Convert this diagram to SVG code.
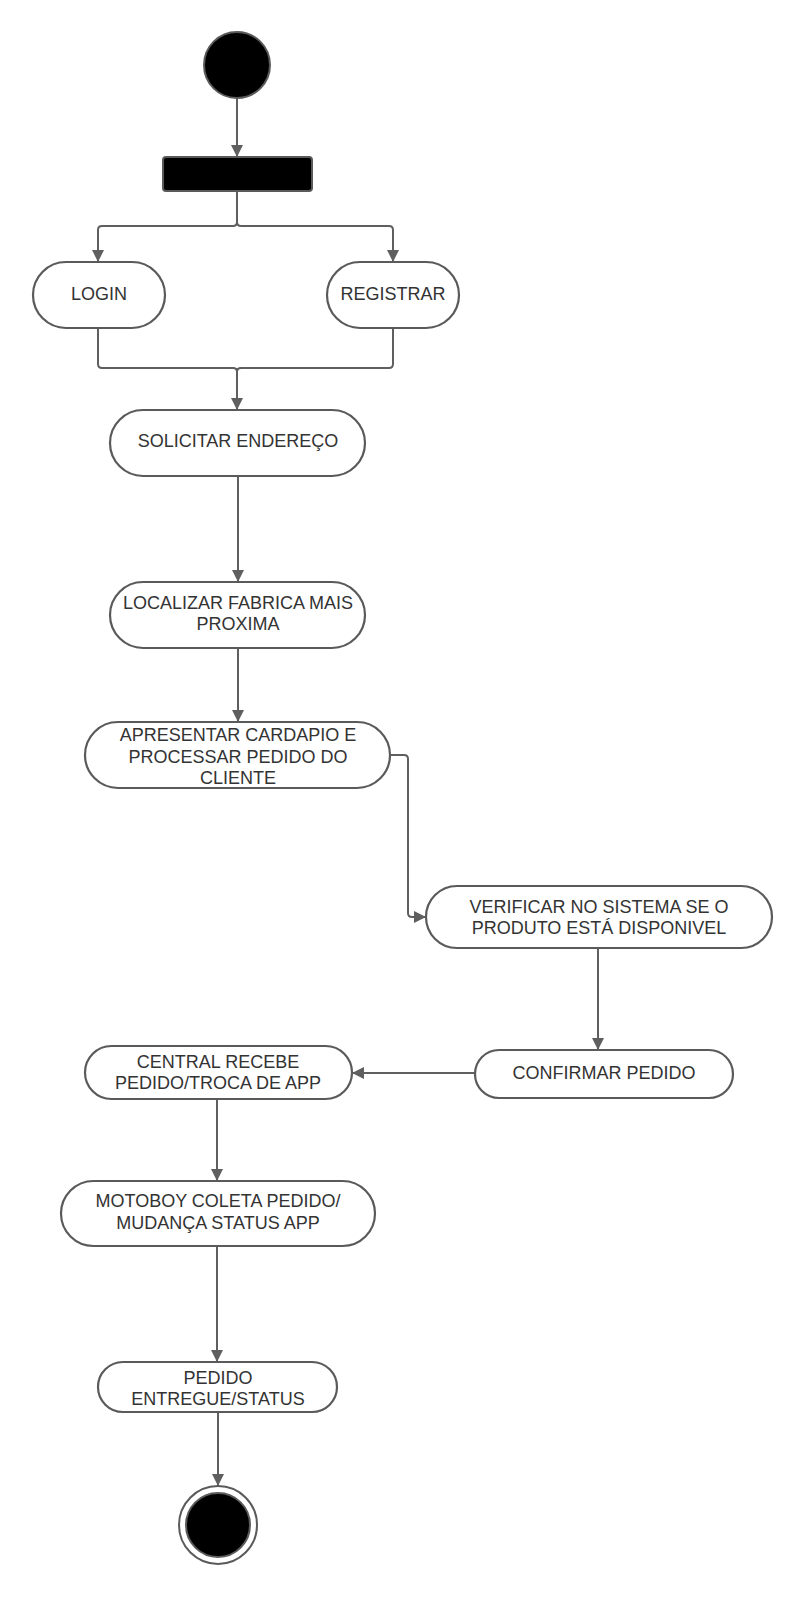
<svg xmlns="http://www.w3.org/2000/svg" width="805" height="1600" viewBox="0 0 805 1600">
<style>
.n{fill:#fff;stroke:#5a5a5a;stroke-width:2.2}
.t{font-family:"Liberation Sans",Arial,sans-serif;font-size:18px;fill:#333;text-anchor:middle;dominant-baseline:central}
.c{fill:none;stroke:#5f5f5f;stroke-width:2}
</style>
<defs>
<marker id="a" markerUnits="userSpaceOnUse" markerWidth="12" markerHeight="14" refX="12" refY="6" orient="auto">
<path d="M0,0 L12,6 L0,12 Z" fill="#5f5f5f"/>
</marker>
</defs>
<rect width="805" height="1600" fill="#fff"/>
<g id="connectors">
<path class="c" d="M237,98 V157" marker-end="url(#a)"/>
<path class="c" d="M237,191 V222 Q237,226 233,226 H102 Q98,226 98,230 V262" marker-end="url(#a)"/>
<path class="c" d="M237,191 V222 Q237,226 241,226 H389 Q393,226 393,230 V262" marker-end="url(#a)"/>
<path class="c" d="M98,328 V364 Q98,368 102,368 H233 Q237,368 237,372"/>
<path class="c" d="M393,328 V364 Q393,368 389,368 H241 Q237,368 237,372"/>
<path class="c" d="M237,368 V410" marker-end="url(#a)"/>
<path class="c" d="M238,476 V582" marker-end="url(#a)"/>
<path class="c" d="M238,648 V722" marker-end="url(#a)"/>
<path class="c" d="M390,755 H404 Q408,755 408,759 V913 Q408,917 412,917 H426" marker-end="url(#a)"/>
<path class="c" d="M598,948 V1050" marker-end="url(#a)"/>
<path class="c" d="M475,1073 H352" marker-end="url(#a)"/>
<path class="c" d="M217,1099 V1181" marker-end="url(#a)"/>
<path class="c" d="M217,1246 V1362" marker-end="url(#a)"/>
<path class="c" d="M218,1412 V1486" marker-end="url(#a)"/>
</g>
<g id="start"><circle cx="237" cy="65" r="33" fill="#000" stroke="#5a5a5a" stroke-width="2"/></g>
<g id="fork"><rect x="163" y="157" width="149" height="34" rx="3" fill="#000" stroke="#5a5a5a" stroke-width="2"/></g>
<g id="login"><rect class="n" x="33" y="262" width="132" height="66" rx="33"/><text class="t" x="99" y="294">LOGIN</text></g>
<g id="registrar"><rect class="n" x="327" y="262" width="132" height="66" rx="33"/><text class="t" x="393" y="294">REGISTRAR</text></g>
<g id="solicitar"><rect class="n" x="110" y="410" width="255" height="66" rx="33"/><text class="t" x="238" y="441">SOLICITAR ENDEREÇO</text></g>
<g id="localizar"><rect class="n" x="110" y="582" width="255" height="66" rx="33"/><text class="t" x="238" y="603">LOCALIZAR FABRICA MAIS</text><text class="t" x="238" y="624">PROXIMA</text></g>
<g id="apresentar"><rect class="n" x="85" y="722" width="305" height="66" rx="33"/><text class="t" x="238" y="735">APRESENTAR CARDAPIO E</text><text class="t" x="238" y="757">PROCESSAR PEDIDO DO</text><text class="t" x="238" y="778">CLIENTE</text></g>
<g id="verificar"><rect class="n" x="426" y="886" width="346" height="62" rx="31"/><text class="t" x="599" y="907">VERIFICAR NO SISTEMA SE O</text><text class="t" x="599" y="928">PRODUTO ESTÁ DISPONIVEL</text></g>
<g id="confirmar"><rect class="n" x="475" y="1050" width="258" height="48" rx="24"/><text class="t" x="604" y="1073">CONFIRMAR PEDIDO</text></g>
<g id="central"><rect class="n" x="85" y="1046" width="267" height="53" rx="26.5"/><text class="t" x="218" y="1062">CENTRAL RECEBE</text><text class="t" x="218" y="1083">PEDIDO/TROCA DE APP</text></g>
<g id="motoboy"><rect class="n" x="61" y="1181" width="314" height="65" rx="32.5"/><text class="t" x="218" y="1201">MOTOBOY COLETA PEDIDO/</text><text class="t" x="218" y="1223">MUDANÇA STATUS APP</text></g>
<g id="entregue"><rect class="n" x="98" y="1362" width="239" height="50" rx="25"/><text class="t" x="218" y="1378">PEDIDO</text><text class="t" x="218" y="1399">ENTREGUE/STATUS</text></g>
<g id="end"><circle cx="218" cy="1525" r="39" fill="#fff" stroke="#5a5a5a" stroke-width="2"/><circle cx="218" cy="1525" r="32" fill="#000" stroke="#5a5a5a" stroke-width="2"/></g>
</svg>
